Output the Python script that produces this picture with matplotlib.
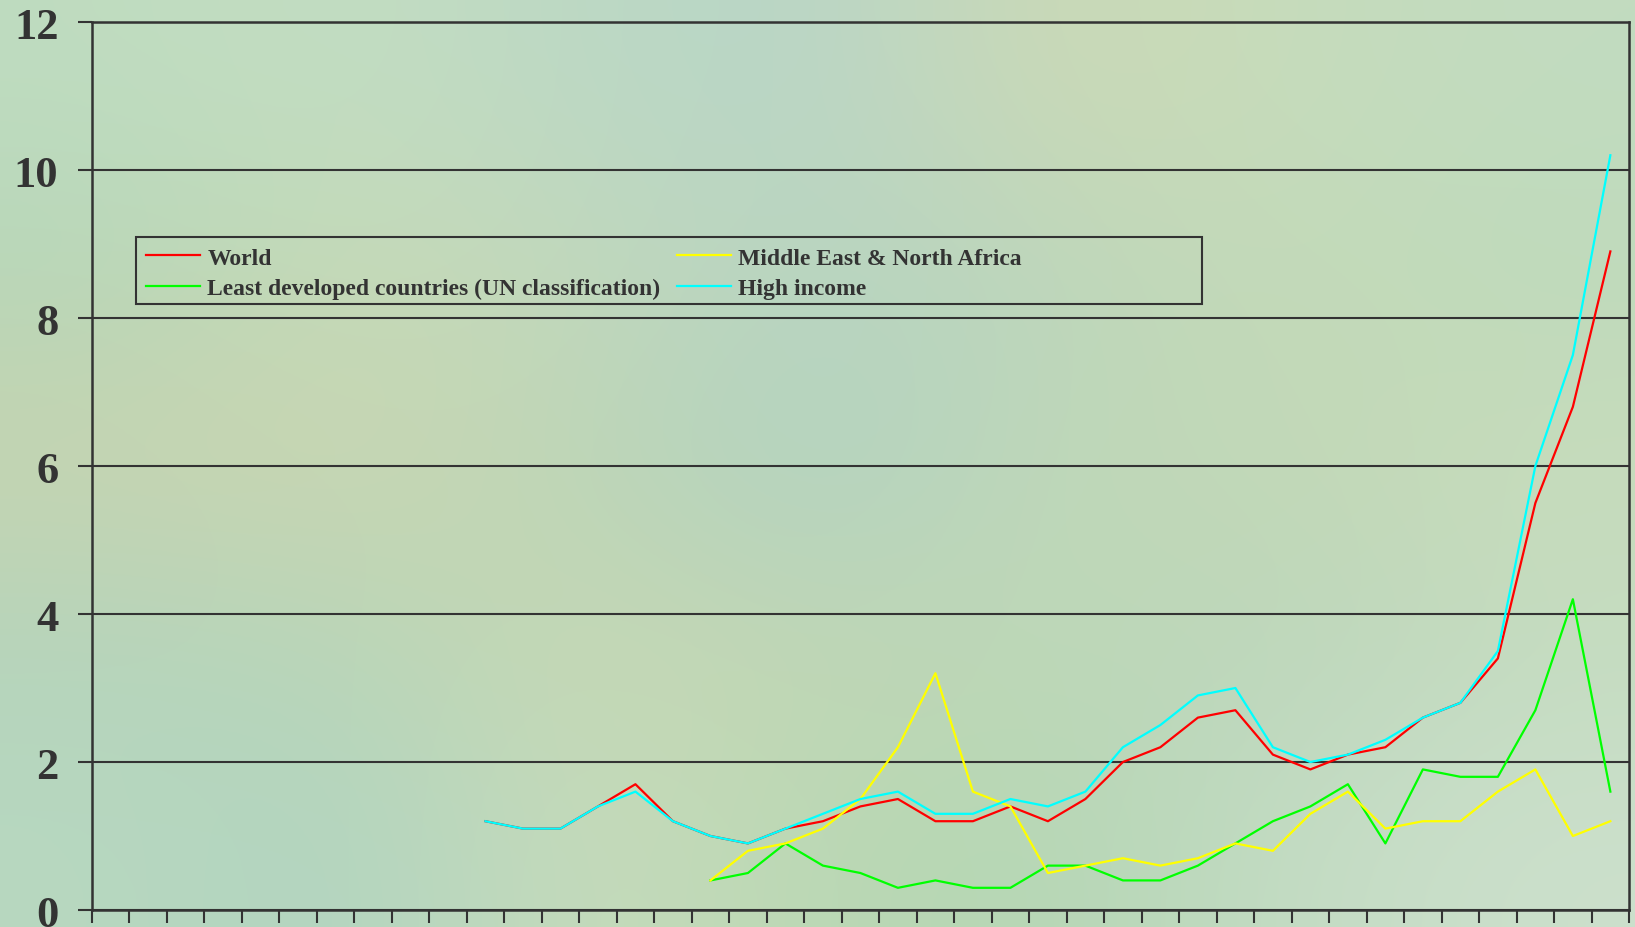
import numpy as np
import matplotlib
matplotlib.use("Agg")
import matplotlib.pyplot as plt
from matplotlib.patches import Rectangle

# 41 yearly categories, the first ones have no data
years = list(range(1980, 2021))
nan = np.nan

world = [nan] * 10 + [1.2, 1.1, 1.1, 1.4, 1.7, 1.2, 1.0, 0.9, 1.1, 1.2,
                      1.4, 1.5, 1.2, 1.2, 1.4, 1.2, 1.5, 2.0, 2.2, 2.6,
                      2.7, 2.1, 1.9, 2.1, 2.2, 2.6, 2.8, 3.4, 5.5, 6.8, 8.9]
high_income = [nan] * 10 + [1.2, 1.1, 1.1, 1.4, 1.6, 1.2, 1.0, 0.9, 1.1, 1.3,
                            1.5, 1.6, 1.3, 1.3, 1.5, 1.4, 1.6, 2.2, 2.5, 2.9,
                            3.0, 2.2, 2.0, 2.1, 2.3, 2.6, 2.8, 3.5, 6.0, 7.5, 10.2]
mena = [nan] * 16 + [0.4, 0.8, 0.9, 1.1, 1.5, 2.2, 3.2, 1.6, 1.4, 0.5,
                     0.6, 0.7, 0.6, 0.7, 0.9, 0.8, 1.3, 1.6, 1.1, 1.2,
                     1.2, 1.6, 1.9, 1.0, 1.2]
ldc = [nan] * 16 + [0.4, 0.5, 0.9, 0.6, 0.5, 0.3, 0.4, 0.3, 0.3, 0.6,
                    0.6, 0.4, 0.4, 0.6, 0.9, 1.2, 1.4, 1.7, 0.9, 1.9,
                    1.8, 1.8, 2.7, 4.2, 1.6]

series_names = ["World", "Least developed countries (UN classification)",
                "Middle East & North Africa", "High income"]
y_ticks = [0, 2, 4, 6, 8, 10, 12]

dark = "#333333"
font = "Liberation Serif"

fig = plt.figure(figsize=(16.35, 9.28), dpi=100)

# soft green background, a few hand picked patches blended together
bg_cols = [
    ["#bfdcc0", "#c4dec2", "#bcd8c4", "#b8d6c8", "#cdd9b4", "#c6dcbc", "#c2dcc0"],
    ["#b6d6b8", "#c6dab6", "#c2d8bc", "#b8d4c0", "#bcd6bc", "#c4dab8", "#bedabb"],
    ["#c8d4b0", "#cbd6b2", "#bcd6b6", "#b0d2c4", "#c0d8b8", "#c2d8b6", "#c8dcbc"],
    ["#b4d4bc", "#b8d6b8", "#c8d8b4", "#c0d6b4", "#bed8b8", "#bcd6bc", "#c4dcc0"],
    ["#b8d8c0", "#b0d4c0", "#c8dcbc", "#bad8b4", "#b4d6b4", "#c4dcc4", "#cce0cc"],
]
bg = np.array([[matplotlib.colors.to_rgb(c) for c in row] for row in bg_cols])
bg_ax = fig.add_axes([0, 0, 1, 1], zorder=-1)
bg_ax.imshow(bg, aspect="auto", interpolation="bicubic", extent=[0, 1, 0, 1])
bg_ax.axis("off")

ax = fig.add_axes([0.0561, 0.0183, 0.9403, 0.9569])
ax.set_facecolor("none")

x = np.arange(len(years))
ax.plot(x, world, color="#ff0000", lw=1.6, zorder=3)
ax.plot(x, ldc, color="#00ff00", lw=1.6, zorder=3)
ax.plot(x, mena, color="#ffff00", lw=1.6, zorder=3)
ax.plot(x, high_income, color="#00ffff", lw=1.6, zorder=3)

ax.set_xlim(-0.5, len(years) - 0.5)
ax.set_ylim(0, 12)
ax.set_xticks(np.arange(len(years) + 1) - 0.5)
ax.set_xticklabels([])
ax.set_yticks(y_ticks)
ax.set_yticklabels([str(t) for t in y_ticks], fontfamily=font,
                   fontweight="bold", fontsize=32, color=dark)
ax.tick_params(axis="x", direction="out", length=9.5, width=1.5, color=dark)
ax.tick_params(axis="y", direction="out", length=10, width=1.5, color=dark, pad=14)
ax.grid(axis="y", color=dark, lw=1.5)
for s in ax.spines.values():
    s.set_color(dark)
    s.set_linewidth(1.8)

# legend without frame, the box is drawn as its own rectangle
handles = ax.get_lines()
leg = ax.legend(handles, series_names, ncol=2, frameon=False,
                loc="upper left", bbox_to_anchor=(0.0245, 0.765),
                prop={"family": font, "weight": "bold", "size": 17},
                handlelength=2.3, handletextpad=0.3, columnspacing=0.7,
                labelspacing=0.38, borderpad=0.2, labelcolor=dark)
ax.add_patch(Rectangle((0.0286, 0.683), 0.6936, 0.075, transform=ax.transAxes,
                       fill=False, edgecolor=dark, lw=1.5, zorder=5))

fig.savefig("out.png", dpi=100)
